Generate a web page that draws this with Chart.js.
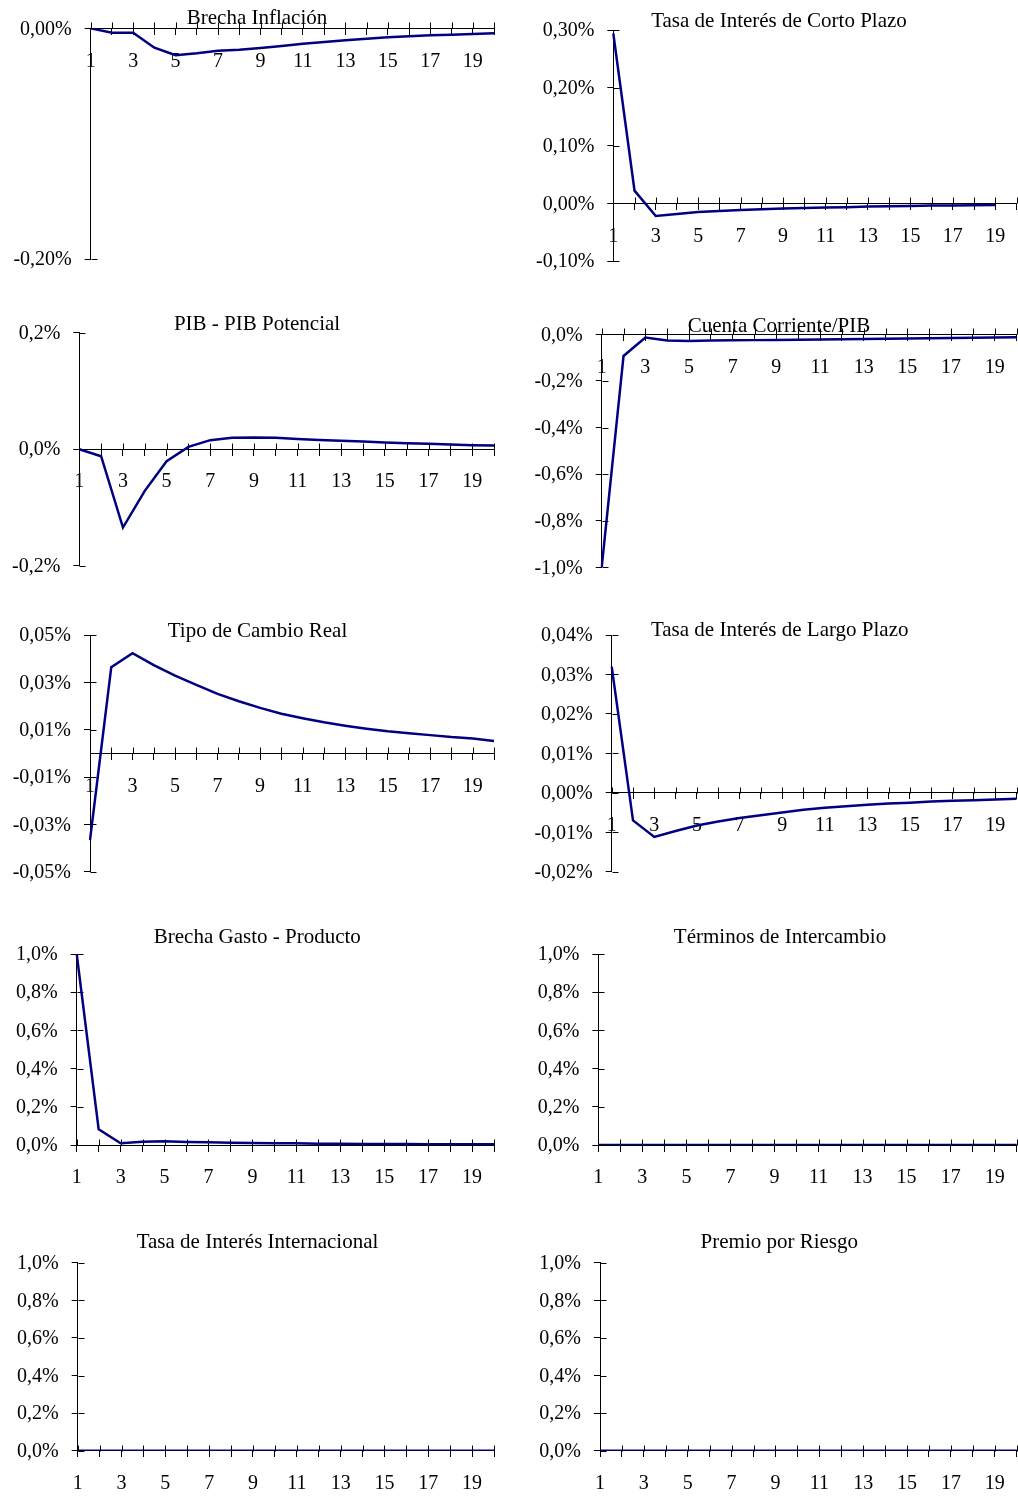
<!DOCTYPE html>
<html>
<head>
<meta charset="utf-8">
<script src="https://cdn.jsdelivr.net/npm/chart.js@4/dist/chart.umd.min.js"></script>
<style>
  html, body { margin: 0; padding: 0; background: #fff; }
  #page { position: relative; width: 1018px; height: 1497px; overflow: hidden; }
  #page canvas { position: absolute; }
</style>
</head>
<body>
<div id="page"></div>
<script>
// periods 1..20
var periods = ['1','2','3','4','5','6','7','8','9','10','11','12','13','14','15','16','17','18','19','20'];

// responses, in percent
var brechaInflacion = [0, -0.0038, -0.0038, -0.0168, -0.0234, -0.0217, -0.0194, -0.0185, -0.0171, -0.0153,
  -0.0133, -0.0119, -0.0104, -0.0090, -0.0078, -0.0069, -0.0061, -0.0055, -0.0049, -0.0043];
var tasaCorto = [0.294, 0.0218, -0.022, -0.0185, -0.015, -0.0133, -0.0116, -0.0104, -0.0093, -0.0081,
  -0.0075, -0.007, -0.0058, -0.0052, -0.0046, -0.0041, -0.004, -0.0035, -0.003, null];
var pibGap = [0, -0.012, -0.1345, -0.0715, -0.0206, 0.004, 0.0155, 0.0195, 0.020, 0.0195,
  0.0177, 0.016, 0.0143, 0.0132, 0.0115, 0.0103, 0.0092, 0.008, 0.0069, 0.0063];
var cuentaCorriente = [-1.0, -0.093, -0.014, -0.027, -0.029, -0.027, -0.026, -0.025, -0.024, -0.023,
  -0.022, -0.021, -0.020, -0.019, -0.018, -0.017, -0.016, -0.015, -0.014, -0.013];
var tipoCambio = [-0.0367, 0.0364, 0.0423, 0.0373, 0.0328, 0.0289, 0.0251, 0.022, 0.0192, 0.0167,
  0.0148, 0.0131, 0.0117, 0.0104, 0.0093, 0.0085, 0.0077, 0.0069, 0.0063, 0.0052];
var tasaLargo = [0.032, -0.007, -0.0112, -0.0097, -0.0083, -0.0073, -0.0064, -0.0057, -0.005, -0.0043,
  -0.0038, -0.0034, -0.003, -0.0027, -0.0025, -0.0022, -0.002, -0.0019, -0.0017, -0.0015];
var brechaGasto = [1.0, 0.082, 0.0087, 0.0175, 0.019, 0.0157, 0.014, 0.0122, 0.0105, 0.0087,
  0.0087, 0.007, 0.007, 0.0052, 0.0052, 0.0052, 0.0035, 0.0035, 0.0035, 0.0035];
var terminos = [0, 0, 0, 0, 0, 0, 0, 0, 0, 0, 0, 0, 0, 0, 0, 0, 0, 0, 0, 0];
var tasaInternacional = [0, 0, 0, 0, 0, 0, 0, 0, 0, 0, 0, 0, 0, 0, 0, 0, 0, 0, 0, 0];
var premioRiesgo = [0, 0, 0, 0, 0, 0, 0, 0, 0, 0, 0, 0, 0, 0, 0, 0, 0, 0, 0, 0];

// y tick values
var ticksInflacion = [-0.2, 0];
var ticksCorto = [-0.1, 0, 0.1, 0.2, 0.3];
var ticksPib = [-0.2, 0, 0.2];
var ticksCuenta = [-1.0, -0.8, -0.6, -0.4, -0.2, 0];
var ticksCambio = [-0.05, -0.03, -0.01, 0.01, 0.03, 0.05];
var ticksLargo = [-0.02, -0.01, 0, 0.01, 0.02, 0.03, 0.04];
var ticksUno = [0, 0.2, 0.4, 0.6, 0.8, 1.0];

var LINE = '#000080';
var AXIS = '#000000';
Chart.defaults.font.family = "'Liberation Serif', 'Times New Roman', serif";
Chart.defaults.font.size = 20;
Chart.defaults.color = '#000';

// tick marks on the inner side of the axes, so they cross the axis line
var crossTicks = {
  id: 'crossTicks',
  beforeDatasetsDraw: function(chart, args, opts) {
    var ctx = chart.ctx, xs = chart.scales.x, ys = chart.scales.y;
    var zero = Math.round(ys.getPixelForValue(0)) + 0.5;
    var left = Math.round(chart.chartArea.left) + 0.5;
    ctx.save();
    ctx.strokeStyle = AXIS;
    ctx.lineWidth = 1;
    ctx.beginPath();
    for (var i = 0; i < xs.ticks.length; i++) {
      var px = Math.round(xs.getPixelForTick(i)) + 0.5;
      ctx.moveTo(px, zero - opts.length);
      ctx.lineTo(px, zero);
    }
    for (var j = 0; j < ys.ticks.length; j++) {
      var py = Math.round(ys.getPixelForTick(j)) + 0.5;
      ctx.moveTo(left, py);
      ctx.lineTo(left + opts.length, py);
    }
    ctx.stroke();
    ctx.restore();
  }
};

var panelTitle = {
  id: 'panelTitle',
  afterDraw: function(chart, args, opts) {
    var ctx = chart.ctx;
    ctx.save();
    ctx.font = "21px 'Liberation Serif', 'Times New Roman', serif";
    ctx.fillStyle = '#000';
    ctx.textAlign = 'center';
    ctx.textBaseline = 'alphabetic';
    ctx.fillText(opts.text, opts.x, opts.y);
    ctx.restore();
  }
};

// box = canvas rect (right ones run past the page edge and get clipped),
// area = plot area (left, right, top, bottom), pos = title centre x and baseline
var panels = [
  {title: 'Brecha Inflación', data: brechaInflacion, ticks: ticksInflacion, dec: 2,
   box: [0, 0, 509, 300], area: [90.7, 494.3, 28.3, 259], pos: [257, 24]},
  {title: 'Tasa de Interés de Corto Plazo', data: tasaCorto, ticks: ticksCorto, dec: 2,
   box: [509, 0, 530, 300], area: [613.3, 1016.5, 30, 261], pos: [779, 26.5]},
  {title: 'PIB - PIB Potencial', data: pibGap, ticks: ticksPib, dec: 1,
   box: [0, 300, 509, 310], area: [79.3, 494.3, 332.7, 565.7], pos: [257, 330]},
  {title: 'Cuenta Corriente/PIB', data: cuentaCorriente, ticks: ticksCuenta, dec: 1,
   box: [509, 300, 530, 310], area: [601.7, 1016.5, 334.3, 567.3], pos: [779, 332]},
  {title: 'Tipo de Cambio Real', data: tipoCambio, ticks: ticksCambio, dec: 2,
   box: [0, 610, 509, 305], area: [90, 494.3, 635, 871.7], pos: [257.5, 637]},
  {title: 'Tasa de Interés de Largo Plazo', data: tasaLargo, ticks: ticksLargo, dec: 2,
   box: [509, 610, 530, 305], area: [611.7, 1016.5, 634.3, 871.7], pos: [779.7, 636]},
  {title: 'Brecha Gasto - Producto', data: brechaGasto, ticks: ticksUno, dec: 1,
   box: [0, 915, 509, 305], area: [76.7, 494.3, 954, 1145], pos: [257.3, 943]},
  {title: 'Términos de Intercambio', data: terminos, ticks: ticksUno, dec: 1,
   box: [509, 915, 530, 305], area: [598.3, 1016.7, 954, 1145], pos: [780, 943]},
  {title: 'Tasa de Interés Internacional', data: tasaInternacional, ticks: ticksUno, dec: 1,
   box: [0, 1220, 509, 277], area: [77.7, 494.3, 1262.7, 1450.7], pos: [257.5, 1248.3]},
  {title: 'Premio por Riesgo', data: premioRiesgo, ticks: ticksUno, dec: 1,
   box: [509, 1220, 530, 277], area: [600, 1016.7, 1262.7, 1450.7], pos: [779.3, 1248.3]}
];

function fmt(v, dec) {
  return v.toFixed(dec).replace('.', ',') + '%';
}

function makePanel(p) {
  var page = document.getElementById('page');
  var cv = document.createElement('canvas');
  var bx = p.box[0], by = p.box[1], bw = p.box[2], bh = p.box[3];
  cv.width = bw; cv.height = bh;
  cv.style.left = bx + 'px'; cv.style.top = by + 'px';
  cv.style.width = bw + 'px'; cv.style.height = bh + 'px';
  page.appendChild(cv);
  var yWidth = p.area[0] - bx;
  var ticks = p.ticks;
  new Chart(cv.getContext('2d'), {
    type: 'line',
    data: {
      labels: periods,
      datasets: [{
        data: p.data,
        borderColor: LINE,
        borderWidth: 2.5,
        pointRadius: 0,
        tension: 0,
        fill: false,
        spanGaps: false
      }]
    },
    options: {
      responsive: false,
      animation: false,
      devicePixelRatio: 1,
      layout: {
        padding: {left: 0, right: bx + bw - p.area[1], top: p.area[2] - by, bottom: by + bh - p.area[3]}
      },
      plugins: {
        legend: {display: false},
        tooltip: {enabled: false},
        crossTicks: {length: 6},
        panelTitle: {text: p.title, x: p.pos[0] - bx, y: p.pos[1] - by}
      },
      scales: {
        x: {
          type: 'category',
          position: {y: 0},
          offset: false,
          grid: {display: true, drawOnChartArea: false, drawTicks: true, tickLength: 6, color: AXIS},
          border: {display: true, color: AXIS, width: 1},
          ticks: {
            autoSkip: false, maxRotation: 0, padding: 15,
            callback: function(v, i) { return i % 2 === 0 ? periods[i] : ''; }
          }
        },
        y: {
          type: 'linear',
          min: ticks[0],
          max: ticks[ticks.length - 1],
          afterBuildTicks: function(s) { s.ticks = ticks.map(function(v) { return {value: v}; }); },
          afterFit: function(s) { s.width = yWidth; },
          grid: {display: true, drawOnChartArea: false, drawTicks: true, tickLength: 6, color: AXIS},
          border: {display: true, color: AXIS, width: 1},
          ticks: {
            padding: 13,
            labelOffset: 1,
            callback: function(v) { return fmt(v, p.dec); }
          }
        }
      }
    },
    plugins: [crossTicks, panelTitle]
  });
}

panels.forEach(makePanel);
</script>
</body>
</html>
